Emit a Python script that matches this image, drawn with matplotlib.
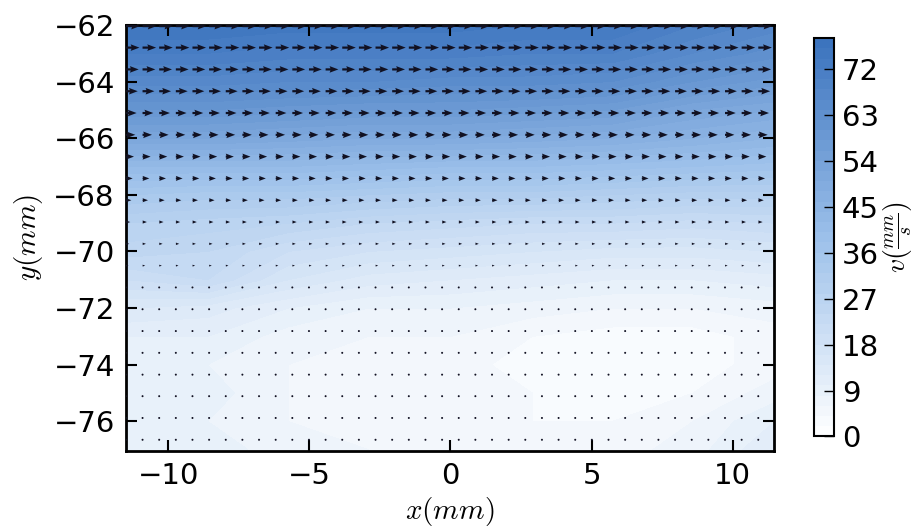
import numpy as np
import matplotlib
matplotlib.use("Agg")
import matplotlib.pyplot as plt
from matplotlib.colors import LinearSegmentedColormap

# background speed field (mm/s), rows bottom -> top
bg_x = [-11.5, -8.6, -5.75, -2.9, 0.0, 2.9, 5.75, 8.6, 11.5]
bg_y = [-77, -76, -75, -74, -73, -72, -71, -70, -69, -68, -67, -66, -65, -64, -63, -62]
bg_speed = [
    [10, 9, 7, 6, 6, 5, 5, 7, 12],
    [9, 8, 6, 5, 5, 4, 4, 6, 10],
    [10, 9, 6, 5, 5, 4, 3, 4, 7],
    [9, 8, 6, 5, 5, 3, 2, 3, 5],
    [10, 10, 7, 6, 6, 4, 3, 3, 5],
    [14, 13, 10, 8, 8, 7, 6, 6, 7],
    [20, 22, 16, 13, 12, 11, 10, 10, 11],
    [25, 24, 20, 18, 17, 16, 15, 15, 16],
    [28, 27, 26, 24, 23, 22, 22, 21, 22],
    [34, 33, 33, 32, 31, 31, 30, 29, 29],
    [42, 42, 42, 41, 40, 40, 39, 38, 37],
    [52, 52, 51, 50, 50, 49, 48, 46, 44],
    [60, 60, 59, 58, 58, 57, 56, 52, 50],
    [67, 67, 66, 66, 65, 65, 64, 60, 57],
    [72, 72, 71, 71, 71, 70, 70, 66, 63],
    [76, 76, 75, 75, 75, 74, 74, 70, 67],
]

# vector grid: 40 columns x 20 rows, horizontal velocity per row
vec_x = np.linspace(-11.5, 11.5, 40)
vec_y = [-76.65, -75.88, -75.11, -74.35, -73.58, -72.81, -72.04, -71.27, -70.50, -69.73,
         -68.96, -68.19, -67.42, -66.65, -65.88, -65.11, -64.34, -63.57, -62.80, -62.04]
u_row = [5, 4, 4, 4, 5, 6, 8, 11, 14, 18, 23, 29, 36, 43, 50, 57, 63, 68, 72, 75]

cbar_ticks = [0, 9, 18, 27, 36, 45, 54, 63, 72]

plt.rcParams['mathtext.fontset'] = 'cm'
plt.rcParams['font.family'] = 'DejaVu Sans'

cmap = LinearSegmentedColormap.from_list('white_blue', ['#ffffff', '#9cc0ea', '#3a72bd'])

fig = plt.figure(figsize=(9.19, 5.31), dpi=100)
ax = fig.add_axes([0.137, 0.151, 0.705, 0.802])
cax = fig.add_axes([0.886, 0.178, 0.021, 0.750])

BX, BY = np.meshgrid(bg_x, bg_y)
cf = ax.contourf(BX, BY, np.array(bg_speed), levels=np.linspace(0, 78, 40), cmap=cmap)

VX, VY = np.meshgrid(vec_x, vec_y)
U = np.tile(np.array(u_row, dtype=float)[:, None], (1, len(vec_x)))
V = np.zeros_like(U)
ax.quiver(VX, VY, U, V, color='#111122', angles='xy', scale_units='xy', scale=150,
          width=0.0034, headwidth=3, headlength=4, headaxislength=3.6, zorder=3)

ax.set_xlim(-11.5, 11.46)
ax.set_ylim(-77.04, -62)
ax.set_xticks([-10, -5, 0, 5, 10])
ax.set_yticks([-76, -74, -72, -70, -68, -66, -64, -62])
ax.tick_params(direction='in', top=True, right=True, length=8, width=1.5, labelsize=21, pad=8)
for s in ax.spines.values():
    s.set_linewidth(2)
ax.set_xlabel('$x(mm)$', fontsize=21, labelpad=4)
ax.set_ylabel('$y(mm)$', fontsize=21, labelpad=6)

cb = fig.colorbar(cf, cax=cax, ticks=cbar_ticks)
cb.ax.tick_params(direction='in', length=7, width=1, labelsize=21, pad=6)
cb.outline.set_linewidth(1.5)
cb.set_label(r'$v(\frac{mm}{s})$', fontsize=20, labelpad=1)

fig.savefig('out.png', dpi=100)
